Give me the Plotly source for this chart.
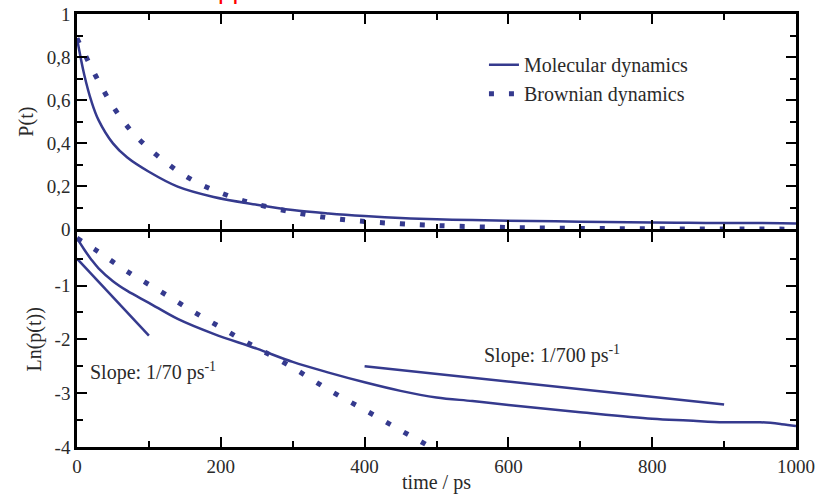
import numpy as np
import plotly.graph_objects as go

# Survival probability P(t) from molecular dynamics (time in ps)
t_md = [0, 10, 20, 30, 50, 70, 100, 140, 190, 250, 300, 350, 400, 450, 500,
        550, 600, 700, 800, 850, 900, 950, 980, 1000]
p_md = [0.887, 0.719, 0.595, 0.507, 0.399, 0.333, 0.267, 0.198, 0.150, 0.114,
        0.089, 0.073, 0.061, 0.052, 0.046, 0.043, 0.040, 0.035, 0.031, 0.030,
        0.029, 0.029, 0.028, 0.027]

# Survival probability P(t) from Brownian dynamics
t_bd = [0, 25, 50, 75, 100, 125, 150, 175, 200, 225, 250, 300, 350, 400, 450,
        500, 600, 700, 800, 900, 1000]
p_bd = [0.887, 0.719, 0.571, 0.458, 0.375, 0.307, 0.249, 0.204, 0.169, 0.139,
        0.116, 0.080, 0.053, 0.0365, 0.025, 0.0172, 0.008, 0.004, 0.002,
        0.001, 0.0005]

# Reference slopes drawn on the log panel
slope_fast_t = [0, 100]
slope_fast_ln = [-0.5, -1.93]
slope_slow_t = [400, 900]
slope_slow_ln = [-2.5, -3.21]

x_ticks = [0, 200, 400, 600, 800, 1000]
p_ticks = [0, 0.2, 0.4, 0.6, 0.8, 1]
p_tick_text = ["0", "0,2", "0,4", "0,6", "0,8", "1"]
ln_ticks = [0, -1, -2, -3, -4]
ln_tick_text = ["", "-1", "-2", "-3", "-4"]

NAVY = "#353a8e"
SERIF = "Liberation Serif"
TXT = "#2a2a2a"
DOTS = "5px,15px"
LW = 2.5

ln_md = np.log(p_md)
ln_bd = np.log(p_bd)

fig = go.Figure()

# top panel: P(t)
fig.add_trace(go.Scatter(x=t_md, y=p_md, mode="lines", name="Molecular dynamics",
                         line=dict(color=NAVY, width=2.5, shape="spline"),
                         xaxis="x2", yaxis="y2"))
fig.add_trace(go.Scatter(x=t_bd, y=p_bd, mode="lines", name="Brownian dynamics",
                         line=dict(color=NAVY, width=5, dash=DOTS, shape="spline"),
                         xaxis="x2", yaxis="y2"))

# bottom panel: ln P(t)
fig.add_trace(go.Scatter(x=t_md, y=ln_md, mode="lines", showlegend=False,
                         line=dict(color=NAVY, width=2.5, shape="spline"),
                         xaxis="x", yaxis="y"))
fig.add_trace(go.Scatter(x=t_bd, y=ln_bd, mode="lines", showlegend=False,
                         line=dict(color=NAVY, width=5, dash=DOTS, shape="spline"),
                         xaxis="x", yaxis="y"))
fig.add_trace(go.Scatter(x=slope_fast_t, y=slope_fast_ln, mode="lines",
                         showlegend=False, line=dict(color=NAVY, width=2.5),
                         xaxis="x", yaxis="y"))
fig.add_trace(go.Scatter(x=slope_slow_t, y=slope_slow_ln, mode="lines",
                         showlegend=False, line=dict(color=NAVY, width=2.5),
                         xaxis="x", yaxis="y"))

# panel heights in px; the two shared border lines coincide in the gap
PLOT_H = 433.0
mid_px = 216.5
low_top = (mid_px - LW / 2) / PLOT_H
up_bottom = (mid_px + LW / 2) / PLOT_H

axis_common = dict(showline=True, linecolor="black", linewidth=LW,
                   mirror="allticks", ticks="inside", tickcolor="black",
                   tickwidth=2, ticklen=10, showgrid=False, zeroline=False,
                   automargin=False,
                   tickfont=dict(family=SERIF, size=19, color=TXT))
minor_common = dict(ticks="inside", ticklen=6, tickwidth=2, tickcolor="black")
title_font = dict(family=SERIF, size=20, color=TXT)

fig.update_layout(
    width=834, height=494,
    margin=dict(l=77, r=38, t=14, b=47),
    paper_bgcolor="white", plot_bgcolor="white",
    xaxis=dict(range=[0, 1000], tickvals=x_ticks, anchor="y",
               minor=dict(dtick=100, **minor_common),
               title=dict(text="time / ps", standoff=4, font=title_font),
               **axis_common),
    xaxis2=dict(range=[0, 1000], tickvals=x_ticks, anchor="y2", matches="x",
                showticklabels=False,
                minor=dict(dtick=100, **minor_common),
                **axis_common),
    yaxis=dict(range=[-4, 0], domain=[0, low_top], tickvals=ln_ticks,
               ticktext=ln_tick_text, anchor="x",
               minor=dict(dtick=0.5, **minor_common),
               title=dict(text="Ln(p(t))", standoff=8, font=title_font),
               **axis_common),
    yaxis2=dict(range=[0, 1], domain=[up_bottom, 1], tickvals=p_ticks,
                ticktext=p_tick_text, anchor="x2",
                minor=dict(dtick=0.1, **minor_common),
                title=dict(text="P(t)", standoff=8, font=title_font),
                **axis_common),
    legend=dict(x=0.566, y=0.928, xanchor="left", yanchor="top",
                bgcolor="rgba(0,0,0,0)", itemwidth=30, tracegroupgap=0,
                font=dict(family=SERIF, size=20, color=TXT)),
    showlegend=True,
)

fig.add_annotation(x=15, y=-2.6, xref="x", yref="y", xanchor="left",
                   text="Slope: 1/70 ps<sup>-1</sup>", showarrow=False,
                   font=title_font)
fig.add_annotation(x=660, y=-2.28, xref="x", yref="y", xanchor="center",
                   text="Slope: 1/700 ps<sup>-1</sup>", showarrow=False,
                   font=title_font)

# red heading running off the top edge
fig.add_annotation(x=0.2156, y=1, xref="paper", yref="paper", xanchor="center",
                   yanchor="bottom", yshift=7, text="pp",
                   showarrow=False,
                   font=dict(family="Liberation Sans", size=26, color="red"))

fig.write_html("out.html")
